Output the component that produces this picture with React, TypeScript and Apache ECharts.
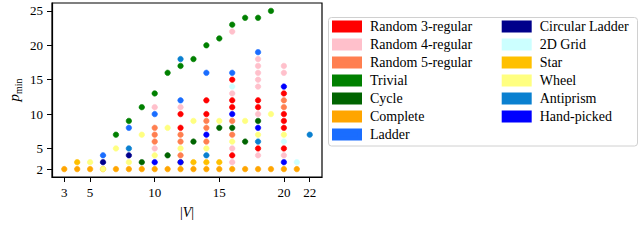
import React, { useEffect, useRef } from "react";
import * as echarts from "echarts";

// ---- data (|V|, p_min) ----
const xTicks = [3, 5, 10, 15, 20, 22];
const yTicks = [2, 5, 10, 15, 20, 25];

const random3Regular = [[12, 8], [12, 10], [14, 10], [14, 12], [16, 4], [16, 11], [16, 12], [16, 15], [18, 5], [18, 11], [18, 12], [20, 5], [20, 8], [20, 9], [20, 10], [20, 13]];
const random4Regular = [[10, 5], [10, 11], [12, 11], [16, 3], [16, 5], [16, 13], [16, 22], [18, 4], [18, 10], [18, 14], [18, 15], [18, 16], [18, 17], [18, 18], [20, 4], [20, 16], [20, 17]];
const random5Regular = [[10, 6], [10, 7], [10, 8], [12, 4], [12, 6], [12, 7], [14, 6], [14, 8], [14, 9], [16, 7], [16, 9], [20, 11], [20, 12]];
const trivial = [[7, 7], [8, 9], [9, 11], [10, 13], [11, 16], [12, 17], [13, 18], [14, 20], [15, 21], [16, 23], [17, 24], [18, 24], [19, 25]];
const cycle = [[9, 3], [11, 4], [13, 6], [15, 8], [16, 8], [17, 6], [18, 9]];
const complete = [[3, 2], [4, 2], [5, 2], [6, 2], [7, 2], [8, 2], [9, 2], [10, 2], [11, 2], [12, 2], [13, 2], [14, 2], [15, 2], [16, 2], [17, 2], [18, 2], [19, 2], [20, 2], [21, 2]];
const ladder = [[6, 4], [8, 8], [10, 10], [12, 12], [14, 16], [16, 16], [18, 19]];
const circularLadder = [[6, 3], [8, 4]];
const grid2D = [[16, 14], [20, 6], [21, 3]];
const star = [[4, 3], [12, 3], [13, 3], [14, 3], [15, 3]];
const wheel = [[5, 3], [6, 2], [7, 5], [8, 3], [9, 7], [10, 4], [11, 8], [12, 5], [13, 9], [14, 5], [15, 9], [16, 6], [17, 9], [18, 7], [19, 10], [20, 7]];
const antiprism = [[8, 5], [12, 18], [14, 4], [18, 6], [22, 7]];
const handPicked = [[10, 3], [12, 3], [14, 7], [16, 10], [18, 8], [20, 3], [20, 14]];

const seriesDefs: [string, number[][], string][] = [
  ["Random 3-regular", random3Regular, "#ff0000"],
  ["Random 4-regular", random4Regular, "#ffc0cb"],
  ["Random 5-regular", random5Regular, "#ff7f50"],
  ["Trivial", trivial, "#008000"],
  ["Cycle", cycle, "#006400"],
  ["Complete", complete, "#ffa500"],
  ["Ladder", ladder, "#1a6dff"],
  ["Circular Ladder", circularLadder, "#00008b"],
  ["2D Grid", grid2D, "#ccffff"],
  ["Star", star, "#ffc000"],
  ["Wheel", wheel, "#ffff80"],
  ["Antiprism", antiprism, "#0a80d0"],
  ["Hand-picked", handPicked, "#0000ff"],
];

const FONT = "'Liberation Serif', 'Times New Roman', serif";
const ICON = "path://M0,0H28V10H0Z M1.3,1.3V8.7H26.7V1.3Z M2.1,2.1H25.9V7.9H2.1Z";

export default function App() {
  const ref = useRef<HTMLDivElement>(null);
  useEffect(() => {
    if (!ref.current) return;
    const chart = echarts.init(ref.current, null, { renderer: "svg" });
    const names = seriesDefs.map((d) => d[0]);
    const legendCommon = {
      orient: "vertical" as const,
      top: 19.6,
      padding: 0,
      itemWidth: 28,
      itemHeight: 10,
      itemGap: 4,
      icon: ICON,
      selectedMode: false,
      textStyle: { fontFamily: FONT, fontSize: 14, color: "#000", lineHeight: 14, padding: [0, 0, 0, 4] },
    };
    chart.setOption({
      animation: false,
      grid: {
        left: 52,
        right: 318,
        top: 3,
        bottom: 68,
        show: true,
        borderColor: "#000",
        borderWidth: 1.2,
        backgroundColor: "transparent",
      },
      legend: [
        { ...legendCommon, left: 332, data: names.slice(0, 7) },
        { ...legendCommon, left: 501.7, data: names.slice(7) },
      ],
      graphic: [
        {
          type: "rect",
          shape: { x: 328.5, y: 17.5, width: 309, height: 128.5, r: 3 },
          style: { fill: "none", stroke: "#d0d0d0", lineWidth: 1 },
          silent: true,
        },
      ],
      xAxis: {
        type: "value",
        min: 2.05,
        max: 22.95,
        name: "{b||}{v|V}{b||}",
        nameLocation: "middle",
        nameGap: 28,
        nameTextStyle: {
          rich: {
            b: { fontFamily: FONT, fontSize: 14, color: "#000" },
            v: { fontFamily: FONT, fontSize: 14, fontStyle: "italic", color: "#000" },
          },
        },
        splitLine: { show: false },
        axisLine: { show: true, lineStyle: { color: "#000", width: 1.2 } },
        axisTick: { show: true, length: 5, lineStyle: { color: "#000", width: 1 }, customValues: xTicks },
        axisLabel: { customValues: xTicks, fontFamily: FONT, fontSize: 13, color: "#000", margin: 9 },
      },
      yAxis: {
        type: "value",
        min: 0.85,
        max: 26.15,
        name: "{p|p}{s|min}",
        nameLocation: "middle",
        nameRotate: 90,
        nameGap: 29,
        nameTextStyle: {
          rich: {
            p: { fontFamily: FONT, fontSize: 15, fontStyle: "italic", color: "#000", verticalAlign: "top", lineHeight: 17 },
            s: { fontFamily: FONT, fontSize: 10, color: "#000", verticalAlign: "bottom", lineHeight: 10 },
          },
        },
        splitLine: { show: false },
        axisLine: { show: true, lineStyle: { color: "#000", width: 1.2 } },
        axisTick: { show: true, length: 5, lineStyle: { color: "#000", width: 1 }, customValues: yTicks },
        axisLabel: { customValues: yTicks, fontFamily: FONT, fontSize: 13, color: "#000", margin: 9 },
      },
      series: seriesDefs.map(([name, data, color]) => ({
        name,
        type: "scatter",
        data,
        symbol: "circle",
        symbolSize: 5.5,
        itemStyle: { color, borderColor: color, borderWidth: 0.6, opacity: 1 },
        emphasis: { disabled: true },
      })),
    });
    return () => chart.dispose();
  }, []);
  return (
    <div
      ref={ref}
      style={{ position: "fixed", left: 0, top: 0, width: 640, height: 245, background: "#fff" }}
    />
  );
}
